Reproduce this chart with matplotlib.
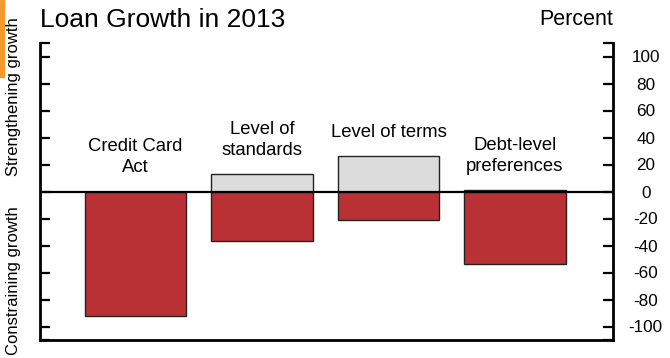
import matplotlib.pyplot as plt
from matplotlib.patches import Rectangle
import numpy as np

plt.rcParams['font.family'] = ['Liberation Sans', 'DejaVu Sans']

categories = ['Credit Card\nAct', 'Level of\nstandards', 'Level of terms', 'Debt-level\npreferences']
strengthening = [0, 13, 26, 1]
constraining = [-92, -37, -21, -54]
yticks = [-100, -80, -60, -40, -20, 0, 20, 40, 60, 80, 100]

red = '#B93135'
grey = '#DCDCDC'

fig = plt.figure(figsize=(6.7, 3.58), dpi=100)
ax = fig.add_axes([40 / 670, 1 - 340 / 358, 573 / 670, 297 / 358])

x = np.arange(len(categories))
ax.bar(x, strengthening, width=0.8, color=grey, edgecolor='#222222', linewidth=1, zorder=2)
ax.bar(x, constraining, width=0.8, color=red, edgecolor='#222222', linewidth=1, zorder=2)
ax.axhline(0, color='black', linewidth=1.6, zorder=3)

for xi, label, top in zip(x, categories, strengthening):
    ax.annotate(label, (xi, max(top, 0)), xytext=(0, 11), textcoords='offset points',
                ha='center', va='bottom', fontsize=13.3, linespacing=1.3)

ax.set_xlim(-0.755, 3.775)
ax.set_ylim(-110, 110)
ax.set_xticks([])

# ticks on both sides, labels on right; stubs at the limits
ax.set_yticks([-110] + yticks + [110])
ax.set_yticklabels([''] + [str(v) for v in yticks] + [''])
ax.yaxis.set_ticks_position('both')
ax.tick_params(axis='y', direction='in', length=7, width=1.6, labelleft=False,
               labelright=True, labelsize=12.3, pad=23.5)
for lab in ax.get_yticklabels():
    lab.set_horizontalalignment('center')

ax.spines['top'].set_visible(False)
for s in ['left', 'right', 'bottom']:
    ax.spines[s].set_linewidth(2)

fig.text(40 / 670, 1 - 27 / 358, 'Loan Growth in 2013', fontsize=19, ha='left', va='baseline')
fig.text(613 / 670, 1 - 25 / 358, 'Percent', fontsize=15.5, ha='right', va='baseline')
fig.text(14 / 670, 1 - 97 / 358, 'Strengthening growth', rotation=90, fontsize=12,
         ha='center', va='center')
fig.text(14 / 670, 1 - 281 / 358, 'Constraining growth', rotation=90, fontsize=12,
         ha='center', va='center')

fig.patches.append(Rectangle((0, 1 - 77 / 358), 4 / 670, 77 / 358, transform=fig.transFigure,
                             color='#F39A2E', zorder=0))

fig.savefig('out.png', dpi=100)
